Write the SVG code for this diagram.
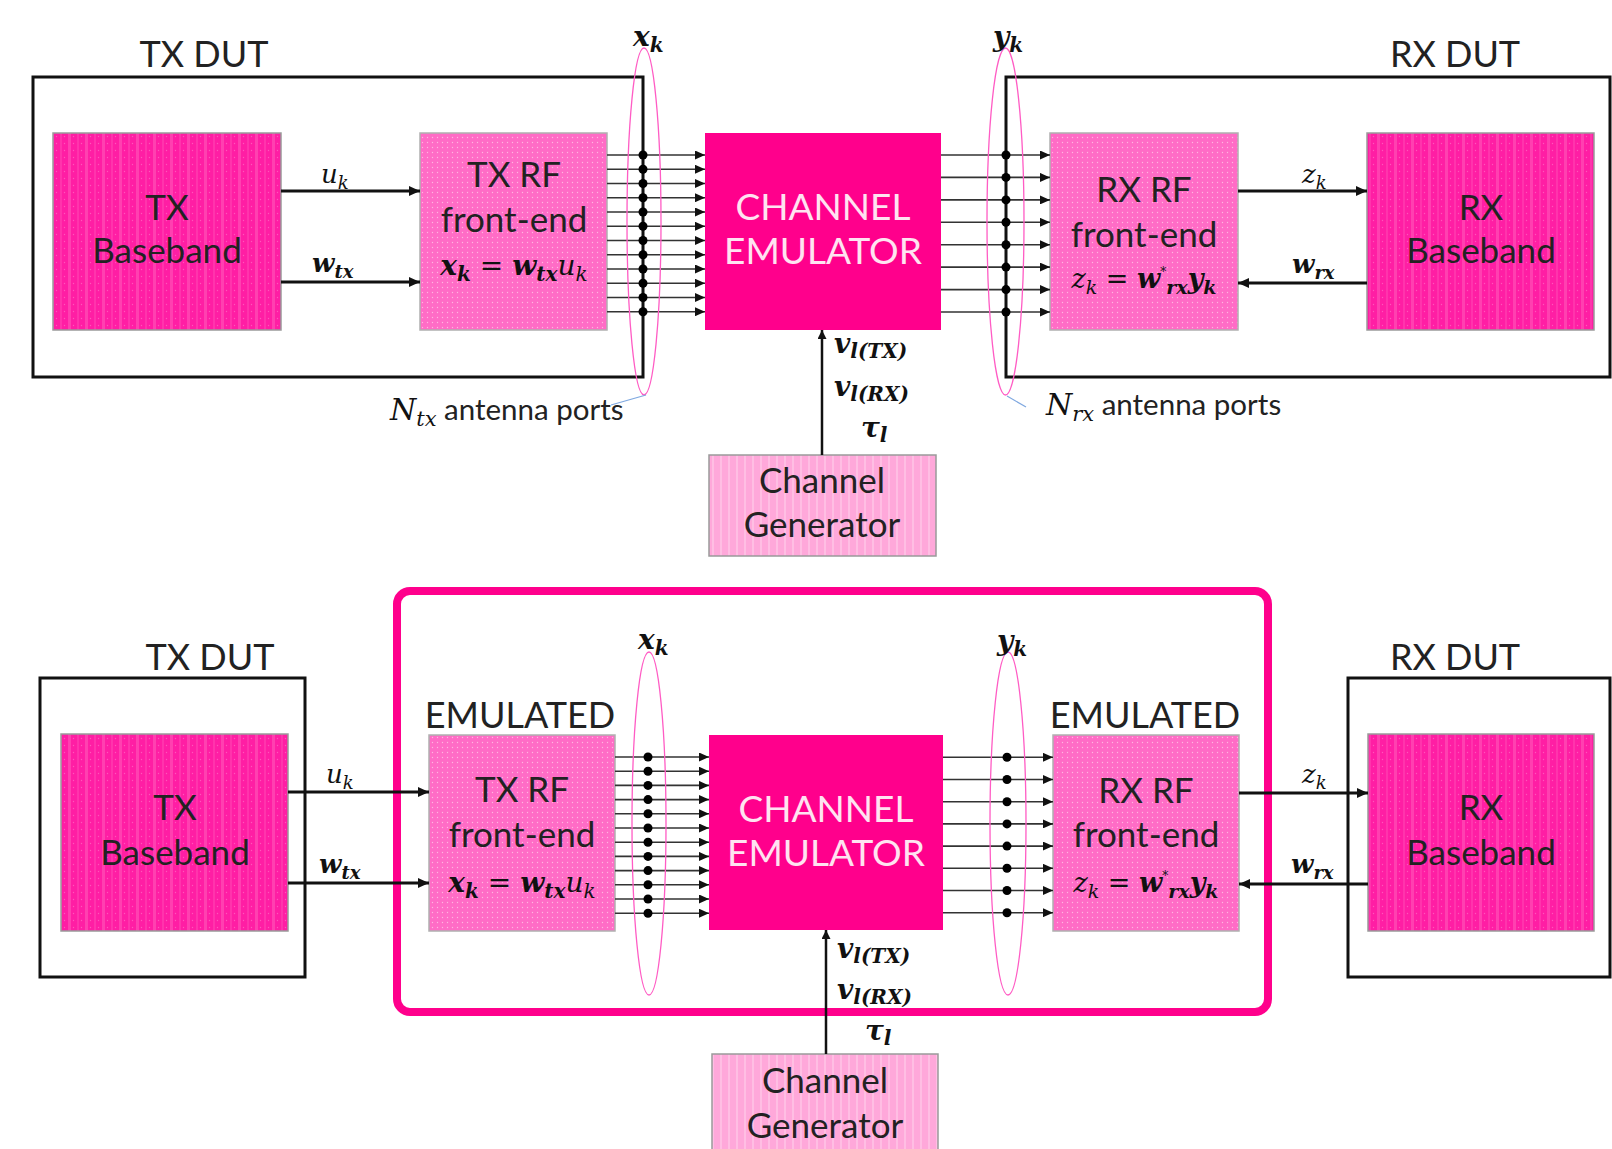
<svg xmlns="http://www.w3.org/2000/svg" width="1612" height="1149" viewBox="0 0 1612 1149">
<style>
.sans{font-family:Lato,"Open Sans","Liberation Sans",sans-serif;fill:#222;font-weight:400}
.lbl{font-size:36px;text-anchor:middle}
.box{font-size:35px;text-anchor:middle}
.ce{font-size:37px;text-anchor:middle;fill:#FFE3F1}
.math{font-family:"DejaVu Serif","Liberation Serif",serif;font-style:italic;fill:#111}
.b{font-weight:bold}
.dut{fill:none;stroke:#111;stroke-width:3}
.bb{fill:url(#pBase);stroke:#9a9a9a;stroke-width:1.5}
.rf{fill:url(#pRF);stroke:#b0b0b0;stroke-width:1.5}
.cem{fill:#FF008C}
.gen{fill:url(#pGen);stroke:#9a9a9a;stroke-width:1.5}
.sig{stroke:#333;stroke-width:1.6;marker-end:url(#aThin)}
.thk{stroke:#111;stroke-width:3;marker-end:url(#aThick)}
.vert{stroke:#111;stroke-width:2.5;marker-end:url(#aVert)}
.ell{fill:none;stroke:#FF5CC4;stroke-width:1.3}
.blue{stroke:#7fa8e0;stroke-width:1.2}
</style>
<defs>
<pattern id="pBase" width="17" height="7" patternUnits="userSpaceOnUse">
<rect width="17" height="7" fill="#FF1EA4"/>
<rect x="0" width="3" height="7" fill="#FF40B0"/>
<rect x="9" width="2" height="7" fill="#FF34AC"/>
<circle cx="5.5" cy="3.5" r="0.7" fill="#FF55BA"/>
<circle cx="13.5" cy="3.5" r="0.7" fill="#FF55BA"/>
</pattern>
<pattern id="pRF" width="5" height="5" patternUnits="userSpaceOnUse">
<rect width="5" height="5" fill="#FF6CC6"/>
<circle cx="2.5" cy="2.5" r="0.7" fill="#FFB5E0"/>
</pattern>
<pattern id="pGen" width="8" height="8" patternUnits="userSpaceOnUse">
<rect width="8" height="8" fill="#FFA8DA"/>
<rect x="0" width="2" height="8" fill="#FFBEE3"/>
</pattern>
<marker id="aThin" markerUnits="userSpaceOnUse" markerWidth="10" markerHeight="9" refX="10" refY="4.5" orient="auto"><path d="M0,0 L10,4.5 L0,9 Z" fill="#111"/></marker>
<marker id="aThick" markerUnits="userSpaceOnUse" markerWidth="11" markerHeight="10" refX="11" refY="5" orient="auto"><path d="M0,0 L11,5 L0,10 Z" fill="#111"/></marker>
<marker id="aVert" markerUnits="userSpaceOnUse" markerWidth="9" markerHeight="9" refX="9" refY="4.5" orient="auto"><path d="M0,0 L9,4.5 L0,9 Z" fill="#111"/></marker>
</defs>
<rect width="1612" height="1149" fill="#fff"/>

<!-- ===== TOP ===== -->
<g id="tx-dut-top"><rect class="dut" x="33" y="77" width="610" height="300"/><text class="sans lbl" x="204" y="67">TX DUT</text></g>
<g id="rx-dut-top"><rect class="dut" x="1006" y="77" width="604" height="300"/><text class="sans lbl" x="1455" y="67">RX DUT</text></g>
<g id="tx-baseband-top"><rect class="bb" x="53" y="133" width="228" height="197"/><text class="sans box" x="167" y="220">TX</text><text class="sans box" x="167" y="263">Baseband</text></g>
<g id="tx-rf-top"><rect class="rf" x="420" y="133" width="187" height="197"/><text class="sans box" x="514" y="187">TX RF</text><text class="sans box" x="514" y="232">front-end</text>
<text class="math" x="514" y="275" font-size="28" text-anchor="middle"><tspan class="b">x</tspan><tspan class="b" font-size="20" dy="6">k</tspan><tspan dy="-6"> = </tspan><tspan class="b">w</tspan><tspan class="b" font-size="20" dy="6">tx</tspan><tspan dy="-6">u</tspan><tspan font-size="20" dy="6">k</tspan></text></g>
<g id="channel-emulator-top"><rect class="cem" x="705" y="133" width="236" height="197"/><text class="sans ce" x="823" y="220">CHANNEL</text><text class="sans ce" x="823" y="264">EMULATOR</text></g>
<g id="rx-rf-top"><rect class="rf" x="1050" y="133" width="188" height="197"/><text class="sans box" x="1144" y="202">RX RF</text><text class="sans box" x="1144" y="247">front-end</text>
<text class="math" x="1144" y="288" font-size="27" text-anchor="middle"><tspan>z</tspan><tspan font-size="19" dy="6">k</tspan><tspan dy="-6"> = </tspan><tspan class="b">w</tspan><tspan font-size="12" dy="-12">*</tspan><tspan class="b" font-size="19" dy="18">rx</tspan><tspan class="b" dy="-6">y</tspan><tspan class="b" font-size="19" dy="6">k</tspan></text></g>
<g id="rx-baseband-top"><rect class="bb" x="1367" y="133" width="227" height="197"/><text class="sans box" x="1481" y="220">RX</text><text class="sans box" x="1481" y="263">Baseband</text></g>
<g id="channel-generator-top"><rect class="gen" x="709" y="455" width="227" height="101"/><text class="sans box" x="822" y="493">Channel</text><text class="sans box" x="822" y="537">Generator</text></g>

<!-- ===== BOTTOM ===== -->
<g id="emulation-boundary"><rect x="397" y="591" width="871" height="421" rx="13" fill="none" stroke="#FF008C" stroke-width="8"/></g>
<g id="tx-dut-bottom"><rect class="dut" x="40" y="678" width="265" height="299"/><text class="sans lbl" x="210" y="670">TX DUT</text></g>
<g id="rx-dut-bottom"><rect class="dut" x="1348" y="678" width="262" height="299"/><text class="sans lbl" x="1455" y="670">RX DUT</text></g>
<g id="tx-baseband-bottom"><rect class="bb" x="61" y="734" width="227" height="197"/><text class="sans box" x="175" y="820">TX</text><text class="sans box" x="175" y="865">Baseband</text></g>
<g id="tx-rf-bottom"><rect class="rf" x="429" y="735" width="186" height="196"/><text class="sans lbl" x="520" y="728">EMULATED</text><text class="sans box" x="522" y="802">TX RF</text><text class="sans box" x="522" y="847">front-end</text>
<text class="math" x="522" y="892" font-size="28" text-anchor="middle"><tspan class="b">x</tspan><tspan class="b" font-size="20" dy="6">k</tspan><tspan dy="-6"> = </tspan><tspan class="b">w</tspan><tspan class="b" font-size="20" dy="6">tx</tspan><tspan dy="-6">u</tspan><tspan font-size="20" dy="6">k</tspan></text></g>
<g id="channel-emulator-bottom"><rect class="cem" x="709" y="735" width="234" height="195"/><text class="sans ce" x="826" y="822">CHANNEL</text><text class="sans ce" x="826" y="866">EMULATOR</text></g>
<g id="rx-rf-bottom"><rect class="rf" x="1053" y="735" width="186" height="196"/><text class="sans lbl" x="1145" y="728">EMULATED</text><text class="sans box" x="1146" y="803">RX RF</text><text class="sans box" x="1146" y="847">front-end</text>
<text class="math" x="1146" y="892" font-size="27" text-anchor="middle"><tspan>z</tspan><tspan font-size="19" dy="6">k</tspan><tspan dy="-6"> = </tspan><tspan class="b">w</tspan><tspan font-size="12" dy="-12">*</tspan><tspan class="b" font-size="19" dy="18">rx</tspan><tspan class="b" dy="-6">y</tspan><tspan class="b" font-size="19" dy="6">k</tspan></text></g>
<g id="rx-baseband-bottom"><rect class="bb" x="1368" y="734" width="226" height="197"/><text class="sans box" x="1481" y="820">RX</text><text class="sans box" x="1481" y="865">Baseband</text></g>
<g id="channel-generator-bottom"><rect class="gen" x="712" y="1054" width="226" height="110"/><text class="sans box" x="825" y="1093">Channel</text><text class="sans box" x="825" y="1138">Generator</text></g>

<!-- ===== CONNECTORS ===== -->
<g id="connectors">
<line class="sig" x1="607" y1="155" x2="705" y2="155"/>
<line class="sig" x1="607" y1="169.25" x2="705" y2="169.25"/>
<line class="sig" x1="607" y1="183.5" x2="705" y2="183.5"/>
<line class="sig" x1="607" y1="197.75" x2="705" y2="197.75"/>
<line class="sig" x1="607" y1="212" x2="705" y2="212"/>
<line class="sig" x1="607" y1="226.25" x2="705" y2="226.25"/>
<line class="sig" x1="607" y1="240.5" x2="705" y2="240.5"/>
<line class="sig" x1="607" y1="254.75" x2="705" y2="254.75"/>
<line class="sig" x1="607" y1="269" x2="705" y2="269"/>
<line class="sig" x1="607" y1="283.25" x2="705" y2="283.25"/>
<line class="sig" x1="607" y1="297.5" x2="705" y2="297.5"/>
<line class="sig" x1="607" y1="311.75" x2="705" y2="311.75"/>
<line class="sig" x1="941" y1="155" x2="1050" y2="155"/>
<line class="sig" x1="941" y1="177.4" x2="1050" y2="177.4"/>
<line class="sig" x1="941" y1="199.9" x2="1050" y2="199.9"/>
<line class="sig" x1="941" y1="222.3" x2="1050" y2="222.3"/>
<line class="sig" x1="941" y1="244.7" x2="1050" y2="244.7"/>
<line class="sig" x1="941" y1="267.1" x2="1050" y2="267.1"/>
<line class="sig" x1="941" y1="289.6" x2="1050" y2="289.6"/>
<line class="sig" x1="941" y1="312" x2="1050" y2="312"/>
<g fill="#000">
<circle cx="643" cy="155" r="4.5"/><circle cx="643" cy="169.25" r="4.5"/><circle cx="643" cy="183.5" r="4.5"/><circle cx="643" cy="197.75" r="4.5"/><circle cx="643" cy="212" r="4.5"/><circle cx="643" cy="226.25" r="4.5"/><circle cx="643" cy="240.5" r="4.5"/><circle cx="643" cy="254.75" r="4.5"/><circle cx="643" cy="269" r="4.5"/><circle cx="643" cy="283.25" r="4.5"/><circle cx="643" cy="297.5" r="4.5"/><circle cx="643" cy="311.75" r="4.5"/>
<circle cx="1006" cy="155" r="4.5"/><circle cx="1006" cy="177.4" r="4.5"/><circle cx="1006" cy="199.9" r="4.5"/><circle cx="1006" cy="222.3" r="4.5"/><circle cx="1006" cy="244.7" r="4.5"/><circle cx="1006" cy="267.1" r="4.5"/><circle cx="1006" cy="289.6" r="4.5"/><circle cx="1006" cy="312" r="4.5"/>
</g>
<line class="thk" x1="281" y1="191" x2="420" y2="191"/>
<line class="thk" x1="281" y1="282" x2="420" y2="282"/>
<line class="thk" x1="1238" y1="191" x2="1367" y2="191"/>
<line class="thk" x1="1367" y1="283" x2="1238" y2="283"/>
<line class="vert" x1="822" y1="455" x2="822" y2="330"/>

<line class="sig" x1="615" y1="757" x2="709" y2="757"/>
<line class="sig" x1="615" y1="771.2" x2="709" y2="771.2"/>
<line class="sig" x1="615" y1="785.4" x2="709" y2="785.4"/>
<line class="sig" x1="615" y1="799.6" x2="709" y2="799.6"/>
<line class="sig" x1="615" y1="813.8" x2="709" y2="813.8"/>
<line class="sig" x1="615" y1="828" x2="709" y2="828"/>
<line class="sig" x1="615" y1="842.2" x2="709" y2="842.2"/>
<line class="sig" x1="615" y1="856.4" x2="709" y2="856.4"/>
<line class="sig" x1="615" y1="870.6" x2="709" y2="870.6"/>
<line class="sig" x1="615" y1="884.8" x2="709" y2="884.8"/>
<line class="sig" x1="615" y1="899" x2="709" y2="899"/>
<line class="sig" x1="615" y1="913.2" x2="709" y2="913.2"/>
<line class="sig" x1="943" y1="757.3" x2="1053" y2="757.3"/>
<line class="sig" x1="943" y1="779.5" x2="1053" y2="779.5"/>
<line class="sig" x1="943" y1="801.7" x2="1053" y2="801.7"/>
<line class="sig" x1="943" y1="823.9" x2="1053" y2="823.9"/>
<line class="sig" x1="943" y1="846.1" x2="1053" y2="846.1"/>
<line class="sig" x1="943" y1="868.3" x2="1053" y2="868.3"/>
<line class="sig" x1="943" y1="890.5" x2="1053" y2="890.5"/>
<line class="sig" x1="943" y1="912.7" x2="1053" y2="912.7"/>
<g fill="#000">
<circle cx="648" cy="757" r="4.5"/><circle cx="648" cy="771.2" r="4.5"/><circle cx="648" cy="785.4" r="4.5"/><circle cx="648" cy="799.6" r="4.5"/><circle cx="648" cy="813.8" r="4.5"/><circle cx="648" cy="828" r="4.5"/><circle cx="648" cy="842.2" r="4.5"/><circle cx="648" cy="856.4" r="4.5"/><circle cx="648" cy="870.6" r="4.5"/><circle cx="648" cy="884.8" r="4.5"/><circle cx="648" cy="899" r="4.5"/><circle cx="648" cy="913.2" r="4.5"/>
<circle cx="1007" cy="757.3" r="4.5"/><circle cx="1007" cy="779.5" r="4.5"/><circle cx="1007" cy="801.7" r="4.5"/><circle cx="1007" cy="823.9" r="4.5"/><circle cx="1007" cy="846.1" r="4.5"/><circle cx="1007" cy="868.3" r="4.5"/><circle cx="1007" cy="890.5" r="4.5"/><circle cx="1007" cy="912.7" r="4.5"/>
</g>
<line class="thk" x1="288" y1="792" x2="429" y2="792"/>
<line class="thk" x1="288" y1="883" x2="429" y2="883"/>
<line class="thk" x1="1239" y1="793" x2="1368" y2="793"/>
<line class="thk" x1="1368" y1="884" x2="1239" y2="884"/>
<line class="vert" x1="826" y1="1054" x2="826" y2="930"/>
</g>

<g id="antenna-groups">
<ellipse class="ell" cx="644" cy="221.5" rx="17" ry="173.5"/>
<ellipse class="ell" cx="1005.5" cy="221.5" rx="18.5" ry="173.5"/>
<ellipse class="ell" cx="649" cy="823.5" rx="17" ry="171.5"/>
<ellipse class="ell" cx="1008" cy="823.5" rx="18" ry="171.5"/>
<line class="blue" x1="646" y1="395" x2="611" y2="405"/>
<line class="blue" x1="1007" y1="396" x2="1026" y2="407"/>
</g>

<g id="labels">
<text class="math b" x="633" y="46" font-size="28">x<tspan font-size="20" dy="6">k</tspan></text>
<text class="math b" x="993" y="46" font-size="28">y<tspan font-size="20" dy="6">k</tspan></text>
<text class="math b" x="638" y="649" font-size="28">x<tspan font-size="20" dy="6">k</tspan></text>
<text class="math b" x="997" y="650" font-size="28">y<tspan font-size="20" dy="6">k</tspan></text>

<text class="math" x="321" y="183" font-size="26">u<tspan font-size="18" dy="6">k</tspan></text>
<text class="math b" x="312" y="272" font-size="26">w<tspan font-size="18" dy="6">tx</tspan></text>
<text class="math" x="1302" y="183" font-size="26">z<tspan font-size="18" dy="6">k</tspan></text>
<text class="math b" x="1292" y="273" font-size="26">w<tspan font-size="18" dy="6">rx</tspan></text>
<text class="math" x="326" y="783" font-size="26">u<tspan font-size="18" dy="6">k</tspan></text>
<text class="math b" x="319" y="873" font-size="26">w<tspan font-size="18" dy="6">tx</tspan></text>
<text class="math" x="1302" y="783" font-size="26">z<tspan font-size="18" dy="6">k</tspan></text>
<text class="math b" x="1291" y="873" font-size="26">w<tspan font-size="18" dy="6">rx</tspan></text>

<text class="math b" x="834" y="353" font-size="28">v<tspan font-size="20" dy="5">l(TX)</tspan></text>
<text class="math b" x="834" y="396" font-size="28">v<tspan font-size="20" dy="5">l(RX)</tspan></text>
<text class="math b" x="861" y="437" font-size="28">τ<tspan font-size="20" dy="5">l</tspan></text>
<text class="math b" x="837" y="958" font-size="28">v<tspan font-size="20" dy="5">l(TX)</tspan></text>
<text class="math b" x="837" y="999" font-size="28">v<tspan font-size="20" dy="5">l(RX)</tspan></text>
<text class="math b" x="865" y="1040" font-size="28">τ<tspan font-size="20" dy="5">l</tspan></text>

<text x="390" y="420"><tspan class="math" font-size="30">N</tspan><tspan class="math" font-size="21" dy="6">tx</tspan><tspan class="sans" font-size="29.5" dy="-6"> antenna ports</tspan></text>
<text x="1046" y="415"><tspan class="math" font-size="30">N</tspan><tspan class="math" font-size="21" dy="6">rx</tspan><tspan class="sans" font-size="29.5" dy="-6"> antenna ports</tspan></text>
</g>
</svg>
